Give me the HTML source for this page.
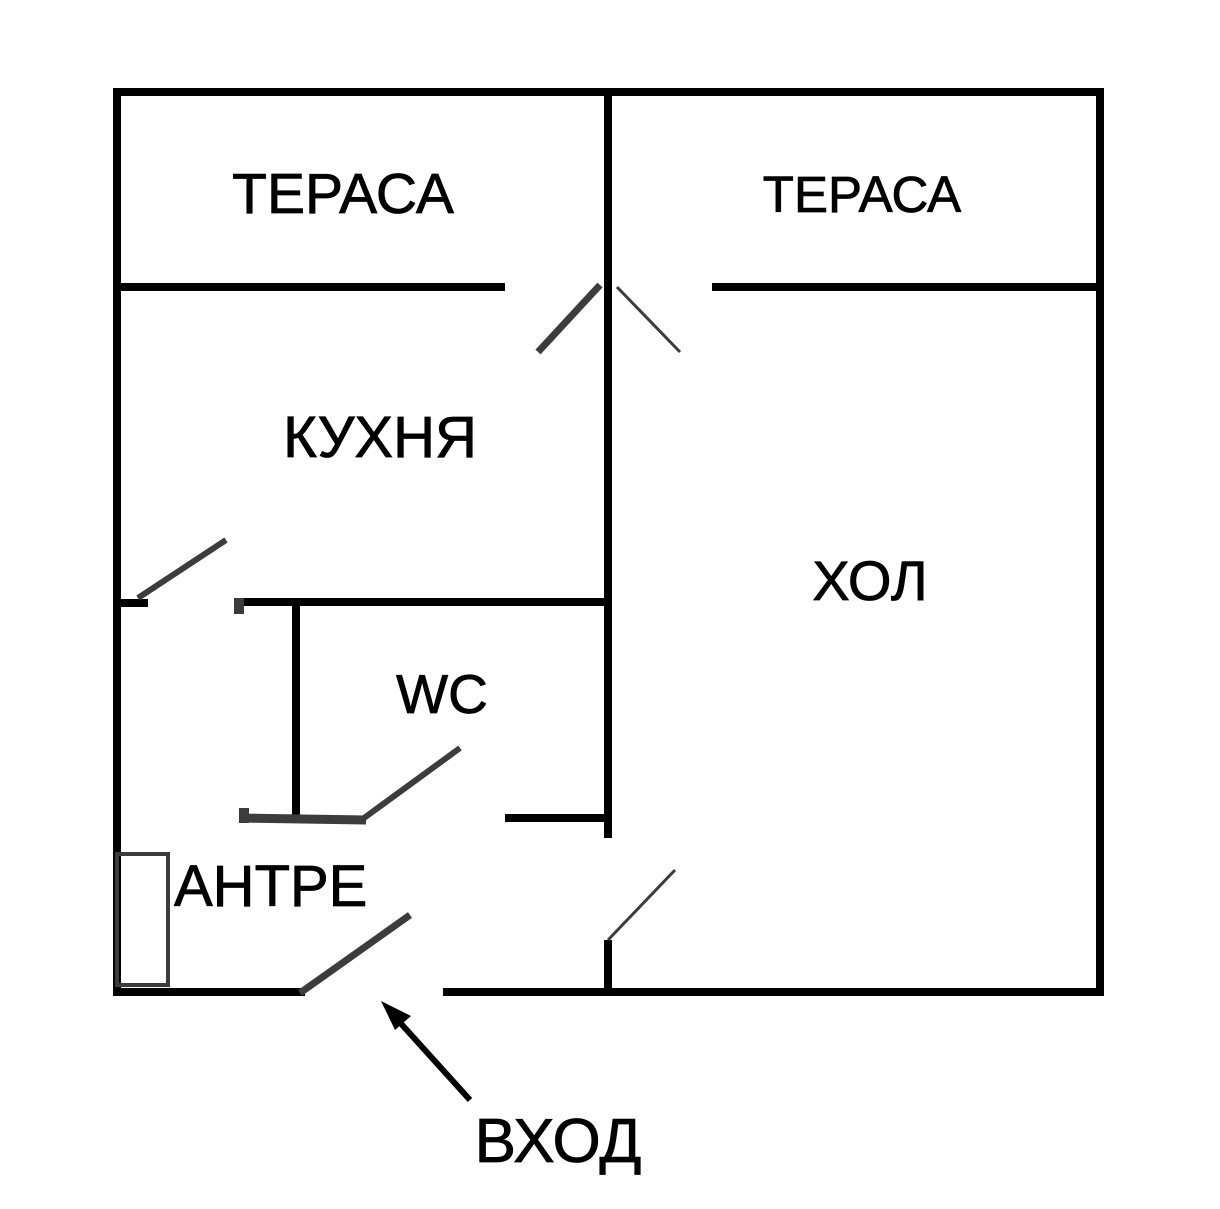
<!DOCTYPE html>
<html><head><meta charset="utf-8"><style>
html,body{margin:0;padding:0;background:#fff;}
svg text{font-family:"Liberation Sans",sans-serif;fill:#000;stroke:#000;stroke-width:0.8;}
</style></head><body>
<svg width="1220" height="1204" viewBox="0 0 1220 1204" xmlns="http://www.w3.org/2000/svg">
<rect width="1220" height="1204" fill="#fff"/>
<g stroke="#000" stroke-width="8" fill="none" stroke-linecap="butt">
<line x1="113" y1="92" x2="1104" y2="92"/>
<line x1="117" y1="88" x2="117" y2="996"/>
<line x1="1100" y1="88" x2="1100" y2="996"/>
<line x1="113" y1="992" x2="305" y2="992"/>
<line x1="443" y1="992" x2="1104" y2="992"/>
<line x1="608" y1="92" x2="608" y2="838"/>
<line x1="608" y1="940" x2="608" y2="992"/>
<line x1="117" y1="287" x2="505" y2="287"/>
<line x1="712" y1="287" x2="1100" y2="287"/>
<line x1="240" y1="602" x2="608" y2="602"/>
<line x1="117" y1="603" x2="148" y2="603"/>
<line x1="296" y1="602" x2="296" y2="818"/>
<line x1="505" y1="818" x2="608" y2="818"/>
</g>
<g stroke="#3c3c3c" fill="none">
<line x1="538" y1="352" x2="600" y2="285" stroke-width="7"/>
<line x1="617" y1="287" x2="680" y2="352" stroke-width="3"/>
<line x1="138" y1="598" x2="226" y2="540" stroke-width="6"/>
<line x1="239" y1="598" x2="239" y2="614" stroke-width="10"/>
<line x1="239" y1="818" x2="366" y2="820" stroke-width="9"/>
<line x1="244" y1="808" x2="244" y2="823" stroke-width="10"/>
<line x1="364" y1="818" x2="460" y2="748" stroke-width="6"/>
<line x1="300" y1="993" x2="410" y2="915" stroke-width="7"/>
<line x1="608" y1="940" x2="675" y2="870" stroke-width="3"/>
<rect x="117" y="854" width="51" height="131" stroke-width="4"/>
</g>
<line x1="470" y1="1100" x2="395" y2="1017" stroke="#000" stroke-width="6"/>
<polygon points="381,1001 411,1016 395,1030" fill="#000"/>
<text x="343" y="213" font-size="57" text-anchor="middle">ТЕРАСА</text>
<text x="862" y="212" font-size="51" text-anchor="middle">ТЕРАСА</text>
<text x="380" y="457" font-size="58" text-anchor="middle">КУХНЯ</text>
<text x="870" y="600" font-size="56" text-anchor="middle">ХОЛ</text>
<text x="442" y="713" font-size="55" text-anchor="middle">WC</text>
<text x="174" y="906" font-size="58">АНТРЕ</text>
<text x="558" y="1162" font-size="62" text-anchor="middle">ВХОД</text>
</svg>
</body></html>
